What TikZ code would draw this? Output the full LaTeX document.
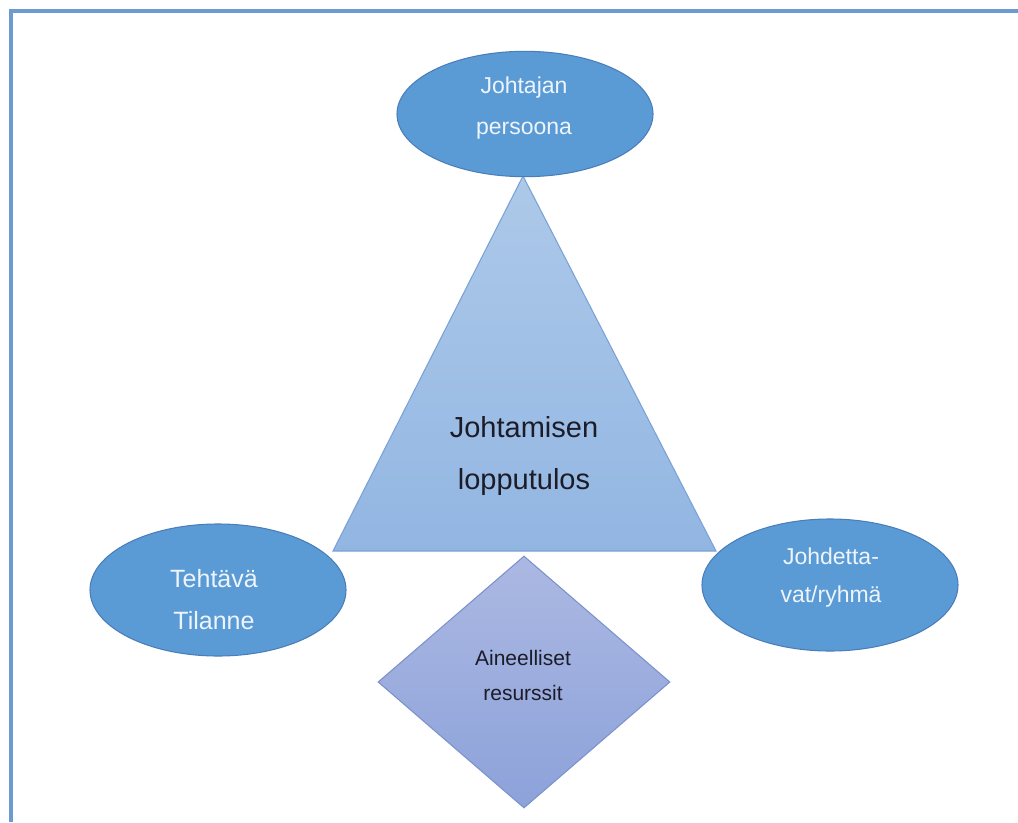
\documentclass[tikz,border=0pt]{standalone}
\usepackage{fontspec}
\setmainfont{Liberation Sans}
\usetikzlibrary{shapes.geometric}
\definecolor{framec}{HTML}{6C9BD2}
\definecolor{ellfill}{HTML}{5B9BD5}
\definecolor{elldraw}{HTML}{4A7EBB}
\definecolor{elltext}{HTML}{EEF4FB}
\definecolor{tritop}{HTML}{ADC9E9}
\definecolor{tribot}{HTML}{92B6E2}
\definecolor{tridraw}{HTML}{7AA2D6}
\definecolor{diatop}{HTML}{ACB8E2}
\definecolor{diabot}{HTML}{8CA2DA}
\definecolor{diadraw}{HTML}{7C92CC}
\definecolor{darktext}{HTML}{1C1C28}
\tikzset{
  oval/.style={ellipse, draw=elldraw, line width=0.8pt, fill=ellfill,
    minimum width=192pt, minimum height=99pt, inner sep=0pt},
  ovaltext/.style={text=elltext, align=center, inner sep=0pt},
  darklabel/.style={text=darktext, align=center, inner sep=0pt},
}
\begin{document}
\begin{tikzpicture}[x=0.75pt, y=-0.75pt]
\useasboundingbox (0,0) rectangle (1018,822);
\fill[white] (0,0) rectangle (1018,822);

% frame lines along the top and left edges
\coordinate (fbl) at (11,822);
\coordinate (ftl) at (11,11);
\coordinate (ftr) at (1018,11);
\draw[framec, line width=2.3pt] (fbl) -- (ftl) -- (ftr);

% central triangle
\coordinate (apex) at (523,176);
\coordinate (baseL) at (333,551);
\coordinate (baseR) at (716,551);
\path[top color=tritop, bottom color=tribot, draw=tridraw, line width=0.8pt, line join=miter]
  (apex) -- (baseR) -- (baseL) -- cycle;
\node[darklabel, font=\fontsize{21.75}{39}\selectfont] (result) at (524,456)
  {Johtamisen\\lopputulos};

% ellipses
\node[oval, minimum height=94pt] (leader) at (525,114) {};
\node[ovaltext, font=\fontsize{17.25}{30.75}\selectfont] (leadertext) at (524,108)
  {Johtajan\\persoona};

\node[oval] (task) at (218,590) {};
\node[ovaltext, font=\fontsize{18.75}{31.5}\selectfont] (tasktext) at (214,600)
  {Tehtävä\\Tilanne};

\node[oval] (group) at (830,585) {};
\node[ovaltext, font=\fontsize{17.25}{28.5}\selectfont] (grouptext) at (831,578)
  {Johdetta-\\vat/ryhmä};

% diamond of material resources
\node[diamond, draw=diadraw, line width=0.8pt, top color=diatop, bottom color=diabot,
  minimum width=219pt, minimum height=189pt, inner sep=0pt] (resources) at (524,682) {};
\node[darklabel, font=\fontsize{15.75}{26.25}\selectfont] (resourcestext) at (523,675)
  {Aineelliset\\resurssit};
\end{tikzpicture}
\end{document}
